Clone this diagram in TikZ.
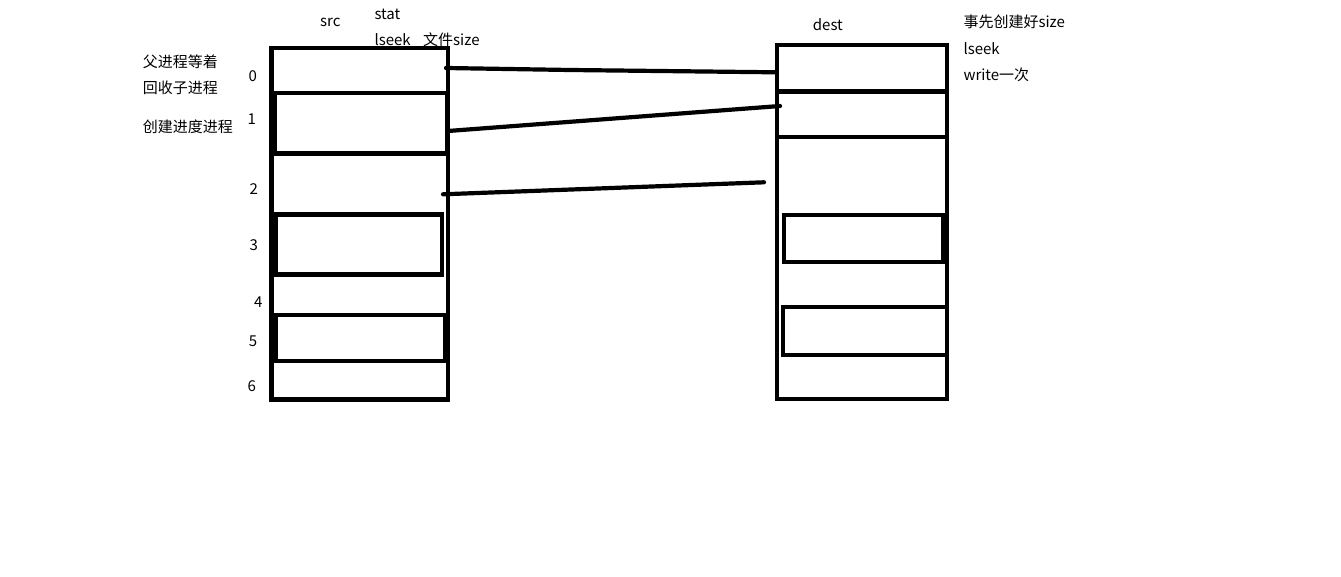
\documentclass[tikz,border=0pt]{standalone}
\usepackage{fontspec}
\setmainfont{Noto Sans CJK SC}
\begin{document}
\begin{tikzpicture}[x=1pt,y=-1pt,
  box/.style={draw=black,line width=4.2pt},
  link/.style={draw=black,line width=4.2pt,line cap=round},
  lbl/.style={anchor=base west,inner sep=0pt,font=\fontsize{15}{18}\selectfont}]
\useasboundingbox[fill=white] (0,0) rectangle (1341,577);
% source file blocks
\draw[box] (271.5,48) rectangle (448,399.5);
\draw[box] (275,93) rectangle (447,153.5);
\draw[box] (276,214.5) rectangle (442,274.5);
\draw[box] (275.5,315) rectangle (445,361);
% destination file blocks
\draw[box] (777,44.7) rectangle (947,399);
\draw[box] (777,91.5) -- (947,91.5);
\draw[box] (777,137) -- (947,137);
\draw[box] (784,214.7) rectangle (943,262);
\draw[box] (783,306.7) rectangle (947,354.7);
% connector end points
\coordinate (s0) at (446,68);
\coordinate (d0) at (775,72.3);
\coordinate (s1) at (448,131);
\coordinate (d1) at (780,106);
\coordinate (s2) at (443,194.3);
\coordinate (d2) at (764,182.3);
\draw[link] (s0) -- (570,70) -- (d0);
\draw[link] (s1) -- (d1);
\draw[link] (s2) -- (d2);
% labels
\node[lbl] (src) at (320,27) {src};
\node[lbl] (stat) at (374.3,20) {stat};
\node[lbl] (lseek1) at (374.3,46) {lseek};
\node[lbl] (fsize) at (423,46) {文件size};
\node[lbl] (t1) at (142.7,67.5) {父进程等着};
\node[lbl] (t2) at (142.7,93.5) {回收子进程};
\node[lbl] (t3) at (142.7,132.5) {创建进度进程};
\node[lbl] (n0) at (248.3,82) {0};
\node[lbl] (n1) at (247.3,125) {1};
\node[lbl] (n2) at (249.3,195) {2};
\node[lbl] (n3) at (249.3,251) {3};
\node[lbl] (n4) at (254,308) {4};
\node[lbl] (n5) at (248.7,346) {5};
\node[lbl] (n6) at (247.3,391) {6};
\node[lbl] (dest) at (812.7,31) {dest};
\node[lbl] (r1) at (963.3,28) {事先创建好size};
\node[lbl] (r2) at (963.3,54.5) {lseek};
\node[lbl] (r3) at (963.3,80.5) {write一次};
\end{tikzpicture}
\end{document}
